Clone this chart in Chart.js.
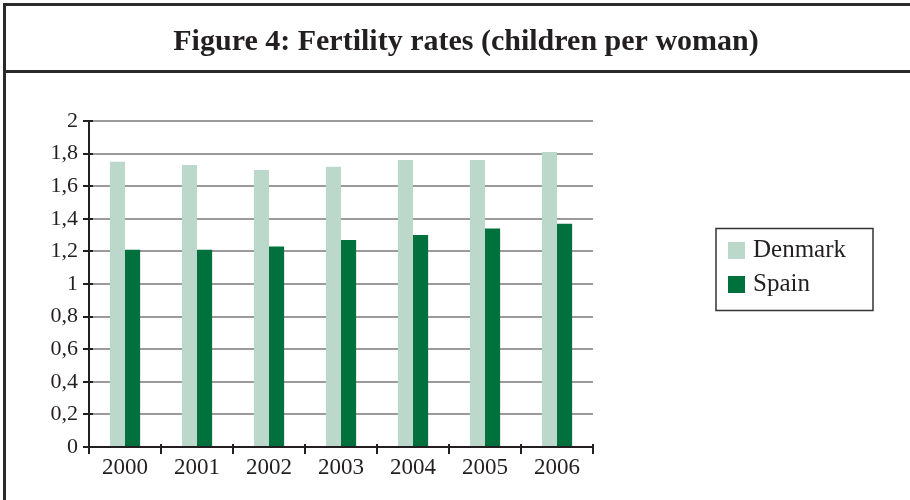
<!DOCTYPE html>
<html>
<head>
<meta charset="utf-8">
<script src="https://cdn.jsdelivr.net/npm/chart.js@4/dist/chart.umd.min.js"></script>
<style>
  html, body { margin: 0; padding: 0; background: #fff; }
  #wrap { position: relative; width: 910px; height: 500px; }
</style>
</head>
<body>
<div id="wrap"><canvas id="c" width="910" height="500"></canvas></div>
<script>
// Fertility rates, children per woman
const years = ['2000', '2001', '2002', '2003', '2004', '2005', '2006'];
const denmark = [1.75, 1.73, 1.70, 1.72, 1.76, 1.76, 1.81];
const spain = [1.21, 1.21, 1.23, 1.27, 1.30, 1.34, 1.37];
const titleText = 'Figure 4: Fertility rates (children per woman)';

const SERIF = '"Liberation Serif", "DejaVu Serif", serif';
const INK = '#231f20';
const GRID = '#9a9a9a';

// Page frame, heading band and title
const framePlugin = {
  id: 'frame',
  beforeDraw(chart) {
    const c = chart.ctx;
    c.save();
    c.fillStyle = '#fff';
    c.fillRect(0, 0, chart.width, chart.height);
    c.strokeStyle = '#2a2a2a';
    c.lineWidth = 3;
    c.beginPath();
    c.moveTo(4.5, chart.height);
    c.lineTo(4.5, 4.5);
    c.lineTo(chart.width, 4.5);
    c.moveTo(3, 71.5);
    c.lineTo(chart.width, 71.5);
    c.stroke();
    c.fillStyle = INK;
    c.font = 'bold 30px ' + SERIF;
    c.textAlign = 'center';
    c.textBaseline = 'alphabetic';
    c.fillText(titleText, 466, 50);
    c.restore();
  },
  afterDraw(chart) {
    // short tick stubs crossing into the plot area
    const c = chart.ctx;
    const x = chart.scales.x, y = chart.scales.y;
    c.save();
    c.strokeStyle = INK;
    c.lineWidth = 2;
    c.beginPath();
    y.ticks.forEach((t, i) => {
      const py = Math.round(y.getPixelForTick(i));
      c.moveTo(x.left, py);
      c.lineTo(x.left + 4, py);
    });
    for (let i = 0; i <= years.length; i++) {
      const px = Math.round(x.left + (x.right - x.left) * i / years.length);
      c.moveTo(px, y.bottom);
      c.lineTo(px, y.bottom - 3);
    }
    c.stroke();
    c.restore();
  }
};

// Boxed legend at the right of the plot
const boxLegend = {
  id: 'boxLegend',
  afterDraw(chart) {
    const c = chart.ctx;
    c.save();
    c.strokeStyle = '#333';
    c.lineWidth = 1.5;
    c.strokeRect(716, 228.5, 157, 82);
    c.font = '25px ' + SERIF;
    c.textAlign = 'left';
    c.textBaseline = 'alphabetic';
    chart.data.datasets.forEach((ds, i) => {
      const top = 242 + i * 34;
      c.fillStyle = ds.backgroundColor;
      c.fillRect(728, top, 17, 17);
      c.fillStyle = INK;
      c.fillText(ds.label, 753, top + 15);
    });
    c.restore();
  }
};

new Chart(document.getElementById('c'), {
  type: 'bar',
  data: {
    labels: years,
    datasets: [
      { label: 'Denmark', data: denmark, backgroundColor: '#bcd8ca' },
      { label: 'Spain', data: spain, backgroundColor: '#00703c' }
    ]
  },
  options: {
    responsive: false,
    animation: false,
    devicePixelRatio: 1,
    layout: { padding: { top: 121, right: 317, bottom: 0, left: 0 } },
    datasets: {
      bar: { categoryPercentage: 0.42, barPercentage: 1.0, borderWidth: 0 }
    },
    plugins: {
      legend: { display: false },
      title: { display: false },
      tooltip: { enabled: false }
    },
    scales: {
      x: {
        afterFit(s) { s.height = 53; },
        grid: {
          offset: true,
          drawOnChartArea: true,
          color: (ctx) => (ctx.index === years.length ? GRID : 'rgba(0,0,0,0)'),
          lineWidth: 2,
          tickColor: INK,
          tickLength: 7
        },
        border: { color: INK, width: 2 },
        ticks: {
          color: INK,
          font: { family: SERIF, size: 23 },
          padding: 0,
          maxRotation: 0
        }
      },
      y: {
        min: 0,
        max: 2,
        afterFit(s) { s.width = 89; },
        grid: {
          color: (ctx) => (ctx.index === 0 ? 'rgba(0,0,0,0)' : GRID),
          lineWidth: 2,
          tickColor: INK,
          tickLength: 6
        },
        border: { color: INK, width: 2 },
        ticks: {
          stepSize: 0.2,
          color: INK,
          padding: 5,
          font: { family: SERIF, size: 22 },
          callback: (v) => Number(v.toFixed(1)).toString().replace('.', ',')
        }
      }
    }
  },
  plugins: [framePlugin, boxLegend]
});
</script>
</body>
</html>
